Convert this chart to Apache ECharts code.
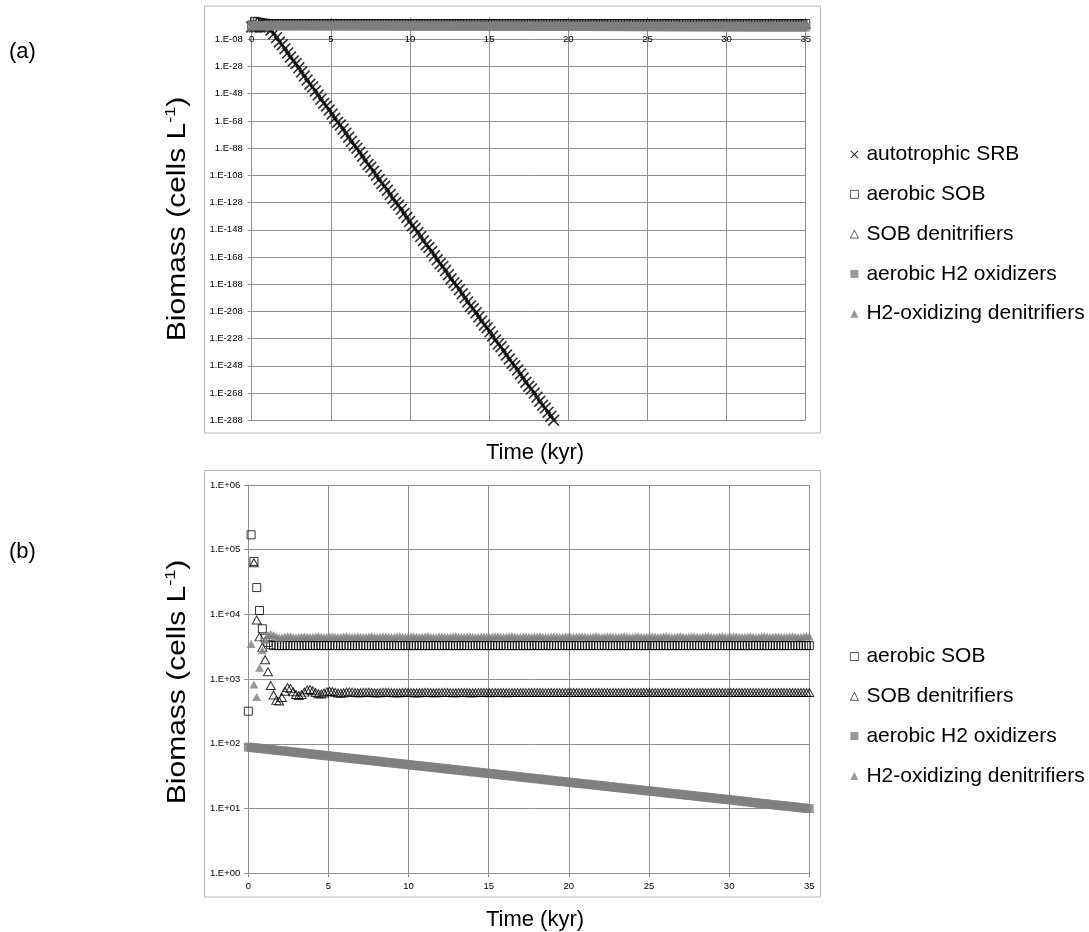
<!DOCTYPE html>
<html><head><meta charset="utf-8">
<script src="https://cdn.jsdelivr.net/npm/echarts@6/dist/echarts.min.js"></script>
<style>html,body{margin:0;padding:0;background:#fff}#c{width:1089px;height:932px}</style>
</head><body><div id="c"></div>
<script>
// time (kyr) of each model output
const timeKyr = [
0,0.175,0.35,0.525,0.7,0.875,1.05,1.225,1.4,1.575,
1.75,1.925,2.1,2.275,2.45,2.625,2.8,2.975,3.15,3.325,
3.5,3.675,3.85,4.025,4.2,4.375,4.55,4.725,4.9,5.075,
5.25,5.425,5.6,5.775,5.95,6.125,6.3,6.475,6.65,6.825,
7,7.175,7.35,7.525,7.7,7.875,8.05,8.225,8.4,8.575,
8.75,8.925,9.1,9.275,9.45,9.625,9.8,9.975,10.15,10.325,
10.5,10.675,10.85,11.025,11.2,11.375,11.55,11.725,11.9,12.075,
12.25,12.425,12.6,12.775,12.95,13.125,13.3,13.475,13.65,13.825,
14,14.175,14.35,14.525,14.7,14.875,15.05,15.225,15.4,15.575,
15.75,15.925,16.1,16.275,16.45,16.625,16.8,16.975,17.15,17.325,
17.5,17.675,17.85,18.025,18.2,18.375,18.55,18.725,18.9,19.075,
19.25,19.425,19.6,19.775,19.95,20.125,20.3,20.475,20.65,20.825,
21,21.175,21.35,21.525,21.7,21.875,22.05,22.225,22.4,22.575,
22.75,22.925,23.1,23.275,23.45,23.625,23.8,23.975,24.15,24.325,
24.5,24.675,24.85,25.025,25.2,25.375,25.55,25.725,25.9,26.075,
26.25,26.425,26.6,26.775,26.95,27.125,27.3,27.475,27.65,27.825,
28,28.175,28.35,28.525,28.7,28.875,29.05,29.225,29.4,29.575,
29.75,29.925,30.1,30.275,30.45,30.625,30.8,30.975,31.15,31.325,
31.5,31.675,31.85,32.025,32.2,32.375,32.55,32.725,32.9,33.075,
33.25,33.425,33.6,33.775,33.95,34.125,34.3,34.475,34.65,34.825,
35];

// autotrophic SRB, panel (a) (cells/L), from t = 0 to 19.075 kyr
const srbA = [
10,10,10,10,10,12,20,6e-2,1e-4,1.5e-7,
1e-10,1e-12,1e-15,1e-18,1e-21,1e-24,1e-26,1e-29,1e-32,1e-35,
1e-38,1e-41,1e-43,1e-46,1e-49,1e-52,1e-55,1e-57,1e-60,1e-63,
1e-66,1e-69,1e-71,1e-74,1e-77,1e-80,1e-83,1e-86,1e-88,1e-91,
1e-94,1e-97,1e-100,1e-102,1e-105,1e-108,1e-111,1e-114,1e-116,1e-119,
1e-122,1e-125,1e-128,1e-130,1e-133,1e-136,1e-139,1e-142,1e-145,1e-147,
1e-150,1e-153,1e-156,1e-159,1e-161,1e-164,1e-167,1e-170,1e-173,1e-175,
1e-178,1e-181,1e-184,1e-187,1e-189,1e-192,1e-195,1e-198,1e-201,1e-204,
1e-206,1e-209,1e-212,1e-215,1e-218,1e-220,1e-223,1e-226,1e-229,1e-232,
1e-234,1e-237,1e-240,1e-243,1e-246,1e-248,1e-251,1e-254,1e-257,1e-260,
1e-263,1e-265,1e-268,1e-271,1e-274,1e-277,1e-279,1e-282,1e-285,1e-288];

// aerobic SOB
const sob = [
320,170000,66000,26000,11500,6000,4300,3700,3400,3300,
3300,3300,3300,3300,3300,3300,3300,3300,3300,3300,
3300,3300,3300,3300,3300,3300,3300,3300,3300,3300,
3300,3300,3300,3300,3300,3300,3300,3300,3300,3300,
3300,3300,3300,3300,3300,3300,3300,3300,3300,3300,
3300,3300,3300,3300,3300,3300,3300,3300,3300,3300,
3300,3300,3300,3300,3300,3300,3300,3300,3300,3300,
3300,3300,3300,3300,3300,3300,3300,3300,3300,3300,
3300,3300,3300,3300,3300,3300,3300,3300,3300,3300,
3300,3300,3300,3300,3300,3300,3300,3300,3300,3300,
3300,3300,3300,3300,3300,3300,3300,3300,3300,3300,
3300,3300,3300,3300,3300,3300,3300,3300,3300,3300,
3300,3300,3300,3300,3300,3300,3300,3300,3300,3300,
3300,3300,3300,3300,3300,3300,3300,3300,3300,3300,
3300,3300,3300,3300,3300,3300,3300,3300,3300,3300,
3300,3300,3300,3300,3300,3300,3300,3300,3300,3300,
3300,3300,3300,3300,3300,3300,3300,3300,3300,3300,
3300,3300,3300,3300,3300,3300,3300,3300,3300,3300,
3300,3300,3300,3300,3300,3300,3300,3300,3300,3300,
3300,3300,3300,3300,3300,3300,3300,3300,3300,3300,
3300];

// SOB denitrifiers
const sobDen = [
null,null,63000,8200,4500,3100,2000,1300,800,570,
470,460,520,650,740,720,640,580,560,580,
630,680,690,660,620,595,590,610,640,650,
645,625,610,605,615,630,635,630,620,615,
618,624,628,626,620,615,614,618,624,627,
625,620,616,615,618,623,626,625,621,617,
616,618,622,625,624,620,617,616,619,623,
624,622,619,617,618,621,623,622,620,618,
617,619,622,623,621,619,618,619,621,622,
621,619,618,619,621,622,621,620,619,619,
620,621,622,621,620,619,619,620,621,621,
620,619,619,620,621,622,621,620,619,620,
621,621,620,619,620,621,622,621,620,619,
620,621,621,620,620,621,621,620,619,620,
621,622,621,620,620,621,620,619,620,621,
621,620,620,621,621,620,620,621,622,621,
620,620,621,621,620,620,621,621,620,620,
621,621,620,620,621,622,621,620,620,621,
621,620,620,621,621,620,620,621,621,620,
620,621,621,620,620,621,621,620,620,621,
620];

// aerobic H2 oxidizers
const h2Ox = [
89.0,88.1,87.2,86.2,85.3,84.4,83.5,82.6,81.6,80.7,
79.8,79.0,78.1,77.3,76.5,75.7,74.8,74.0,73.2,72.3,
71.5,70.8,70.0,69.3,68.5,67.8,67.1,66.3,65.6,64.8,
64.1,63.4,62.8,62.1,61.5,60.8,60.1,59.5,58.8,58.2,
57.5,56.9,56.3,55.7,55.1,54.5,53.9,53.3,52.7,52.1,
51.5,51.0,50.4,49.9,49.4,48.9,48.3,47.8,47.3,46.7,
46.2,45.7,45.2,44.8,44.3,43.8,43.3,42.8,42.4,41.9,
41.4,41.0,40.5,40.1,39.7,39.3,38.8,38.4,38.0,37.5,
37.1,36.7,36.3,36.0,35.6,35.2,34.8,34.4,34.1,33.7,
33.3,32.9,32.6,32.2,31.9,31.5,31.2,30.8,30.5,30.1,
29.8,29.5,29.2,28.9,28.6,28.3,27.9,27.6,27.3,27.0,
26.7,26.4,26.2,25.9,25.6,25.4,25.1,24.8,24.5,24.3,
24.0,23.8,23.5,23.3,23.0,22.8,22.5,22.3,22.0,21.8,
21.5,21.3,21.1,20.8,20.6,20.4,20.2,20.0,19.7,19.5,
19.3,19.1,18.9,18.7,18.5,18.3,18.1,17.9,17.7,17.5,
17.3,17.1,16.9,16.8,16.6,16.4,16.2,16.0,15.9,15.7,
15.5,15.3,15.2,15.0,14.9,14.7,14.5,14.4,14.2,14.1,
13.9,13.8,13.6,13.5,13.3,13.2,13.0,12.9,12.7,12.6,
12.4,12.3,12.1,12.0,11.9,11.8,11.6,11.5,11.4,11.2,
11.1,11.0,10.9,10.8,10.7,10.6,10.4,10.3,10.2,10.1,
10.0];

// H2-oxidizing denitrifiers
const h2Den = [
null,3500,830,530,1500,2800,4100,4800,5000,4800,
4550,4400,4420,4520,4600,4580,4500,4450,4470,4540,
4560,4520,4480,4500,4550,4600,4530,4480,4500,4540,
4580,4520,4470,4500,4560,4590,4510,4480,4520,4560,
4540,4490,4500,4570,4600,4520,4470,4510,4560,4580,
4520,4480,4500,4550,4590,4530,4490,4510,4560,4570,
4510,4470,4520,4580,4600,4540,4480,4500,4550,4580,
4530,4490,4510,4560,4590,4520,4470,4500,4560,4600,
4540,4480,4500,4550,4580,4520,4490,4510,4570,4590,
4530,4480,4510,4560,4600,4540,4490,4500,4550,4580,
4520,4470,4510,4570,4590,4530,4480,4500,4560,4600,
4540,4490,4500,4550,4580,4520,4480,4510,4570,4590,
4530,4490,4500,4560,4600,4530,4480,4510,4550,4580,
4520,4470,4500,4570,4590,4540,4490,4500,4560,4600,
4530,4480,4510,4550,4580,4520,4490,4510,4570,4590,
4540,4480,4500,4560,4600,4530,4470,4500,4550,4580,
4520,4490,4510,4570,4590,4540,4480,4500,4560,4600,
4530,4490,4510,4550,4580,4520,4470,4500,4570,4590,
4540,4480,4500,4560,4600,4530,4490,4510,4550,4580,
4520,4480,4510,4570,4590,4540,4490,4500,4560,4600,
4550];

const seriesNames = ['autotrophic SRB','aerobic SOB','SOB denitrifiers','aerobic H2 oxidizers','H2-oxidizing denitrifiers'];
const xTickStep = 5;

const FONT = 'Liberation Sans';
const GRID = '#8f8f8f';
const GREY = '#7f7f7f';
const XMARK = 'path://M0,1L1,0L5,4L9,0L10,1L6,5L10,9L9,10L5,6L1,10L0,9L4,5Z';

function pairs(vals, useLog) {
  const out = [];
  vals.forEach((v, i) => { if (v != null) out.push([timeKyr[i], useLog ? Math.log10(v) : v]); });
  return out;
}
const pad2 = n => (n < 10 ? '0' + n : '' + n);

const styles = [
  {symbol: XMARK, symbolSize: 12, itemStyle: {color: '#000'}},
  {symbol: 'rect', symbolSize: 8, itemStyle: {color: 'rgba(0,0,0,0)', borderColor: '#000', borderWidth: 1}},
  {symbol: 'triangle', symbolSize: [9, 8], itemStyle: {color: 'rgba(0,0,0,0)', borderColor: '#000', borderWidth: 1}},
  {symbol: 'rect', symbolSize: 9, itemStyle: {color: GREY}},
  {symbol: 'triangle', symbolSize: [9, 8], itemStyle: {color: GREY}}
];
const dataA = [srbA, sob, sobDen, h2Ox, h2Den];
const dataB = [null, sob, sobDen, h2Ox, h2Den];

const series = [];
dataA.forEach((d, k) => series.push(Object.assign({
  type: 'scatter', name: seriesNames[k], xAxisIndex: 0, yAxisIndex: 0,
  data: pairs(d, true), animation: false, silent: true
}, styles[k])));
dataB.forEach((d, k) => { if (d) series.push(Object.assign({
  type: 'scatter', name: seriesNames[k], xAxisIndex: 1, yAxisIndex: 1,
  data: pairs(d, false), animation: false, silent: true
}, styles[k])); });

const axisLineStyle = {lineStyle: {color: GRID, width: 1}};
const labelStyle = {fontSize: 9.5, color: '#000', fontFamily: FONT};

const xAxisBase = {
  type: 'value', min: 0, max: 35, interval: xTickStep,
  axisLine: Object.assign({show: true, onZero: false}, axisLineStyle),
  axisTick: {show: true, length: 4, lineStyle: {color: GRID}},
  splitLine: {show: true, lineStyle: {color: GRID, width: 1}},
  axisLabel: Object.assign({margin: 8}, labelStyle)
};

const legendIcon = name => {
  const hollow = name === 'aerobic SOB' || name === 'SOB denitrifiers';
  return hollow ? {name: name, itemStyle: {borderWidth: 0.8}} : {name: name};
};
const legendBase = {
  orient: 'vertical', left: 845, itemWidth: 8, itemHeight: 8, itemGap: 18.8,
  selectedMode: false, textStyle: {fontSize: 21, fontFamily: FONT, color: '#000', lineHeight: 21, padding: [0, 0, 0, 3]}
};

const yTitle = (cy) => ({
  type: 'text', x: 178, y: cy, rotation: Math.PI / 2, scaleX: 1.2,
  style: {text: 'Biomass (cells L{s|-1})', fontSize: 25, fontFamily: FONT, fill: '#000', align: 'center', verticalAlign: 'middle', lineHeight: 30,
    rich: {s: {fontSize: 15, fontFamily: FONT, verticalAlign: 'top', lineHeight: 30}}}
});

const chart = echarts.init(document.getElementById('c'), null, {renderer: 'canvas'});
chart.setOption({
  animation: false,
  textStyle: {fontFamily: FONT},
  grid: [
    {left: 251.7, top: 17.5, width: 554, height: 402.8},
    {left: 248.3, top: 485, width: 561, height: 388.3}
  ],
  xAxis: [
    Object.assign({}, xAxisBase, {gridIndex: 0, position: 'top', offset: -10.9,
      axisTick: {show: true, inside: true, length: 4, lineStyle: {color: GRID}},
      axisLabel: Object.assign({inside: true, margin: 6}, labelStyle)}),
    Object.assign({}, xAxisBase, {gridIndex: 1})
  ],
  yAxis: [
    {
      type: 'value', gridIndex: 0, min: -288, max: 8, interval: 20,
      axisLine: Object.assign({show: true, onZero: false}, axisLineStyle),
      axisTick: {show: true, length: 4, lineStyle: {color: GRID}},
      splitLine: {show: true, showMaxLine: false, lineStyle: {color: GRID, width: 1}},
      axisLabel: Object.assign({margin: 9, showMaxLabel: false,
        formatter: v => (v > -8 ? '' : '1.E-' + pad2(Math.abs(v)))}, labelStyle)
    },
    {
      type: 'log', logBase: 10, gridIndex: 1, min: 1, max: 1e6,
      axisLine: Object.assign({show: true, onZero: false}, axisLineStyle),
      axisTick: {show: true, length: 4, lineStyle: {color: GRID}},
      splitLine: {show: true, lineStyle: {color: GRID, width: 1}},
      axisLabel: Object.assign({margin: 8,
        formatter: v => '1.E+' + pad2(Math.round(Math.log10(v)))}, labelStyle)
    }
  ],
  legend: [
    Object.assign({}, legendBase, {top: 139, data: seriesNames.map(legendIcon)}),
    Object.assign({}, legendBase, {top: 641, data: seriesNames.slice(1).map(legendIcon)})
  ],
  graphic: [
    {type: 'rect', shape: {x: 204.5, y: 6, width: 616, height: 427}, style: {fill: 'none', stroke: '#b8b8b8', lineWidth: 1}, silent: true},
    {type: 'rect', shape: {x: 204.5, y: 470.5, width: 616, height: 426.5}, style: {fill: 'none', stroke: '#b8b8b8', lineWidth: 1}, silent: true},
    {type: 'text', x: 9, y: 52, style: {text: '(a)', fontSize: 22, fontFamily: FONT, fill: '#000', verticalAlign: 'middle'}},
    {type: 'text', x: 9, y: 552, style: {text: '(b)', fontSize: 22, fontFamily: FONT, fill: '#000', verticalAlign: 'middle'}},
    {type: 'text', x: 535, y: 453, style: {text: 'Time (kyr)', fontSize: 22, fontFamily: FONT, fill: '#000', align: 'center', verticalAlign: 'middle'}},
    {type: 'text', x: 535, y: 920, style: {text: 'Time (kyr)', fontSize: 22, fontFamily: FONT, fill: '#000', align: 'center', verticalAlign: 'middle'}},
    yTitle(219),
    yTitle(682)
  ],
  series: series
});
</script>
</body></html>
